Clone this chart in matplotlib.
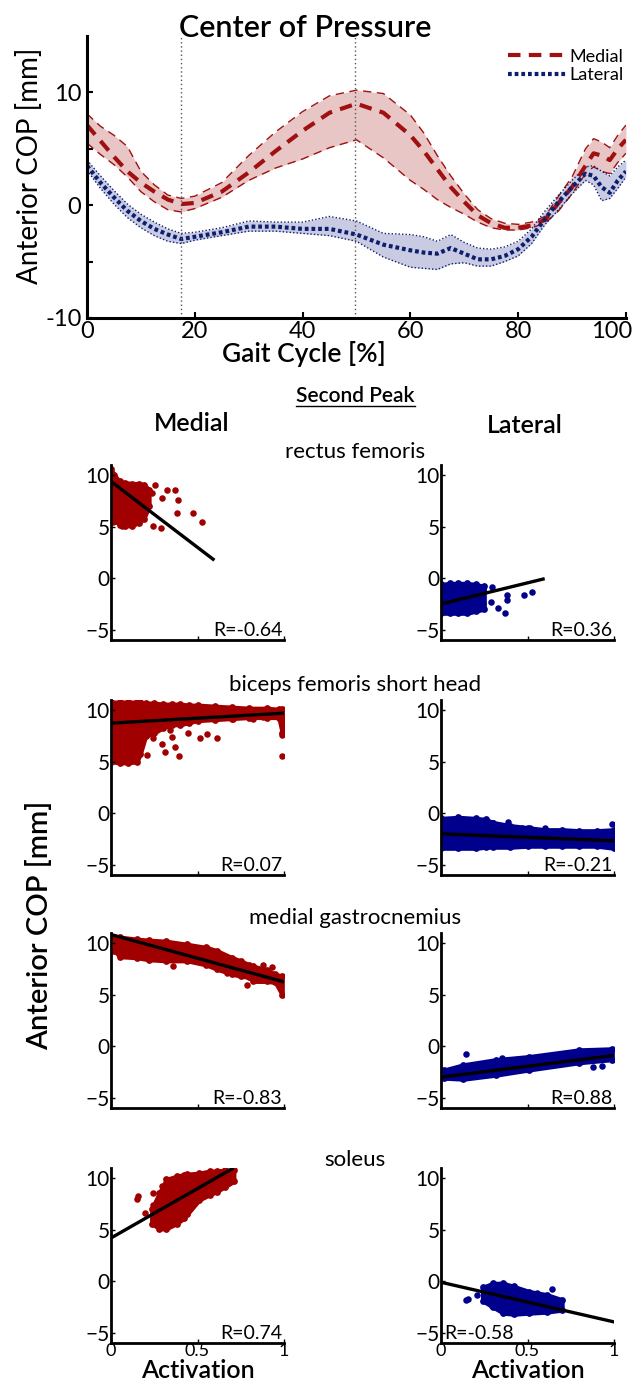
import numpy as np
import matplotlib
matplotlib.use("Agg")
import matplotlib.pyplot as plt
from matplotlib.lines import Line2D
from matplotlib.transforms import ScaledTranslation

plt.rcParams['font.family'] = ['Lato', 'DejaVu Sans']

# ---------------- top panel: COP over the gait cycle ----------------
gait = [0, 2.5, 5, 7.5, 10, 12.5, 15, 17.5, 20, 25, 30, 35, 40, 45, 50, 55, 60, 62.5, 65,
        67.5, 70, 72.5, 75, 77.5, 80, 82.5, 85, 87.5, 90, 92.5, 94, 95.5, 97, 98.5, 100]

med_mean = [7.1, 5.7, 4.3, 3.0, 2.0, 1.2, 0.5, 0.1, 0.2, 1.2, 2.9, 4.8, 6.6, 8.2, 9.0, 8.2, 6.2, 4.8, 3.2,
            1.6, 0.3, -0.9, -1.6, -2.0, -2.0, -1.8, -1.3, 0.2, 1.6, 3.5, 4.6, 4.4, 4.0, 5.0, 5.8]
med_upper = [8.1, 7.0, 6.2, 5.2, 3.0, 1.8, 0.9, 0.6, 0.8, 2.0, 4.4, 6.5, 8.3, 9.7, 10.2, 9.9, 8.0, 6.4, 4.4,
             2.6, 1.0, -0.4, -1.2, -1.6, -1.7, -1.5, -1.0, 0.8, 2.5, 5.0, 5.9, 5.6, 5.1, 6.2, 7.1]
med_lower = [5.5, 4.5, 3.6, 2.5, 1.2, 0.3, -0.4, -0.6, -0.3, 0.7, 2.2, 3.3, 4.1, 5.1, 5.8, 4.2, 2.2, 1.4, 0.5,
             -0.2, -0.8, -1.5, -2.0, -2.2, -2.2, -2.0, -1.6, -0.5, 1.0, 2.8, 3.4, 3.0, 2.8, 3.8, 4.6]

lat_mean = [3.5, 2.0, 0.7, -0.5, -1.4, -2.1, -2.6, -3.0, -2.8, -2.4, -1.9, -1.9, -2.1, -2.1, -2.6, -3.5, -4.0, -4.2, -4.3,
            -3.8, -4.3, -4.8, -4.8, -4.5, -3.9, -2.8, -1.2, 0.3, 1.6, 2.8, 2.6, 1.6, 1.1, 2.2, 3.0]
lat_upper = [4.0, 2.6, 1.3, 0.1, -0.8, -1.5, -2.1, -2.5, -2.4, -2.0, -1.4, -1.5, -1.5, -1.0, -1.4, -2.5, -2.6, -2.8, -3.2,
             -2.6, -3.3, -3.8, -3.9, -3.7, -3.2, -2.1, -0.5, 0.9, 2.2, 3.4, 3.5, 3.0, 2.6, 3.4, 4.0]
lat_lower = [3.1, 1.5, 0.1, -1.1, -2.0, -2.7, -3.2, -3.4, -3.1, -2.7, -2.3, -2.3, -2.5, -2.7, -3.2, -4.6, -5.5, -5.6, -5.7,
             -5.2, -5.1, -5.4, -5.4, -5.0, -4.5, -3.4, -1.7, -0.4, 1.0, 2.2, 1.8, 0.4, 0.6, 1.5, 2.5]

events = [17.4, 49.8]   # gait events marked by dotted lines

# ---------------- scatter panels (second peak) ----------------
muscles = ['rectus femoris', 'biceps femoris short head', 'medial gastrocnemius', 'soleus']

# dense part of each cloud: activation, lower and upper COP edge
rf_med_cloud = ([0, 0.02, 0.05, 0.08, 0.12, 0.16, 0.19, 0.22],
                [6.8, 5.6, 5.2, 5.1, 5.1, 5.4, 5.8, 7.0],
                [10.6, 10.0, 9.4, 9.3, 9.2, 9.2, 9.1, 8.6])
rf_lat_cloud = ([0, 0.05, 0.1, 0.15, 0.2, 0.25],
                [-3.4, -3.4, -3.4, -3.4, -3.2, -3.0],
                [-0.6, -0.5, -0.5, -0.5, -0.6, -0.8])
bf_med_cloud = ([0, 0.05, 0.10, 0.15, 0.17, 0.2, 0.25, 0.3, 0.35, 0.4, 0.45, 0.5, 0.6, 0.7, 0.8, 0.9, 0.97, 0.99, 1.0],
                [5.0, 4.9, 4.9, 5.0, 5.8, 7.5, 7.8, 8.3, 8.6, 8.6, 8.8, 9.0, 9.1, 9.2, 9.3, 9.3, 9.3, 7.8, 8.2],
                [10.8, 10.8, 10.8, 10.8, 10.8, 10.7, 10.7, 10.6, 10.6, 10.6, 10.5, 10.5, 10.4, 10.3, 10.2, 10.2, 10.1, 10.1, 10.0])
bf_lat_cloud = ([0, 0.1, 0.2, 0.26, 0.3, 0.4, 0.5, 0.6, 0.7, 0.8, 0.9, 1.0],
                [-3.4, -3.4, -3.4, -3.3, -3.3, -3.3, -3.2, -3.2, -3.2, -3.2, -3.2, -3.4],
                [-0.5, -0.4, -0.5, -0.6, -0.9, -1.2, -1.4, -1.6, -1.6, -1.7, -1.7, -1.6])
mg_med_cloud = ([0.02, 0.05, 0.15, 0.22, 0.32, 0.44, 0.55, 0.61, 0.7, 0.75, 0.8, 0.82, 0.9, 0.95, 0.99],
                [9.3, 8.7, 8.6, 8.4, 8.3, 8.3, 7.9, 7.5, 7.0, 6.8, 6.7, 6.3, 6.3, 6.2, 5.0],
                [10.6, 10.6, 10.4, 10.3, 10.2, 9.9, 9.6, 9.3, 8.6, 8.3, 7.9, 7.8, 7.4, 7.0, 6.8])
mg_lat_cloud = ([0.02, 0.13, 0.32, 0.51, 0.8, 0.99],
                [-3.1, -3.2, -2.8, -2.3, -1.6, -1.3],
                [-2.3, -1.8, -1.3, -1.0, -0.35, -0.25])
so_med_cloud = ([0.235, 0.28, 0.32, 0.38, 0.42, 0.44, 0.51, 0.57, 0.61, 0.66, 0.71],
                [5.6, 5.1, 5.1, 5.6, 6.1, 6.5, 7.9, 8.4, 8.7, 9.2, 9.7],
                [7.0, 8.6, 9.9, 10.2, 10.35, 10.4, 10.5, 10.7, 10.7, 10.8, 10.8])
so_lat_cloud = ([0.24, 0.3, 0.36, 0.42, 0.51, 0.61, 0.7],
                [-1.9, -2.5, -3.1, -3.2, -3.1, -3.0, -2.8],
                [-0.6, -0.2, -0.2, -0.5, -1.0, -1.3, -1.8])

# isolated points outside the dense cloud: activation, COP
rf_med_pts = ([0.254, 0.322, 0.37, 0.389, 0.293, 0.235, 0.38, 0.476, 0.524, 0.245, 0.289, 0.013, 0.061],
              [9.06, 8.57, 8.57, 7.6, 7.76, 8.25, 6.31, 6.37, 5.44, 5.11, 4.92, 5.44, 5.11])
rf_lat_pts = ([0.293, 0.289, 0.331, 0.37, 0.383, 0.383, 0.48, 0.524, 0.245, 0.245],
              [-0.81, -2.27, -2.85, -3.34, -1.59, -2.1, -1.62, -1.3, -1.1, -2.4])
bf_med_pts = ([0.206, 0.293, 0.312, 0.37, 0.395, 0.35, 0.514, 0.553, 0.611, 0.447, 0.707, 0.823, 0.88, 0.987, 0.987, 0.245, 0.34],
              [5.66, 6.7, 5.93, 6.47, 5.58, 7.43, 7.27, 7.66, 7.34, 7.8, 9.2, 9.2, 9.35, 5.56, 7.6, 7.27, 8.1])
bf_lat_pts = ([0.389, 0.514, 0.553, 0.601, 0.765, 0.987, 0.302, 0.466],
              [-0.87, -1.46, -1.78, -1.46, -1.78, -1.07, -0.94, -1.4])
mg_med_pts = ([0.36, 0.553, 0.88, 0.93, 0.786, 0.668],
              [7.77, 9.54, 7.92, 7.66, 5.98, 7.07])
mg_lat_pts = ([0.145, 0.876, 0.928, 0.35],
              [-0.75, -2.0, -1.88, -1.13])
so_med_pts = ([0.148, 0.154, 0.245, 0.293, 0.24, 0.197, 0.495, 0.312],
              [7.99, 8.25, 8.57, 9.22, 7.44, 6.63, 7.92, 7.92])
so_lat_pts = ([0.145, 0.157, 0.206, 0.293, 0.254, 0.64, 0.553],
              [-1.8, -1.75, -1.3, -2.43, -1.3, -0.73, -1.13])

# regression lines: intercept, slope, activation range
fit_med = [(9.4, -12.8, 0.59), (8.75, 0.97, 1.0), (10.85, -4.6, 0.99), (4.2, 9.6, 0.7)]
fit_lat = [(-2.5, 4.1, 0.59), (-2.0, -0.68, 0.99), (-3.0, 2.1, 0.99), (-0.1, -3.85, 1.0)]
r_med = ['R=-0.64', 'R=0.07', 'R=-0.83', 'R=0.74']
r_lat = ['R=0.36', 'R=-0.21', 'R=0.88', 'R=-0.58']

clouds_med = [rf_med_cloud, bf_med_cloud, mg_med_cloud, so_med_cloud]
clouds_lat = [rf_lat_cloud, bf_lat_cloud, mg_lat_cloud, so_lat_cloud]
pts_med = [rf_med_pts, bf_med_pts, mg_med_pts, so_med_pts]
pts_lat = [rf_lat_pts, bf_lat_pts, mg_lat_pts, so_lat_pts]

MED = '#a00000'
LAT = '#00008c'
MED_LINE = '#a01010'
LAT_LINE = '#0c1f6e'

fig = plt.figure(figsize=(6.35, 13.91), dpi=100)

# ---------- top ----------
ax = fig.add_axes([0.137, 0.7714, 0.8487, 0.2027])
ax.fill_between(gait, med_lower, med_upper, color='#e8c6c6', lw=0)
ax.fill_between(gait, lat_lower, lat_upper, color='#c9cbe3', lw=0)
ax.plot(gait, med_upper, color=MED_LINE, lw=1, ls=(0, (6, 4)))
ax.plot(gait, med_lower, color=MED_LINE, lw=1, ls=(0, (6, 4)))
ax.plot(gait, lat_upper, color=LAT_LINE, lw=1, ls=(0, (1, 1.5)))
ax.plot(gait, lat_lower, color=LAT_LINE, lw=1, ls=(0, (1, 1.5)))
h1, = ax.plot(gait, med_mean, color=MED_LINE, lw=3, ls=(0, (3, 2)), label='Medial')
h2, = ax.plot(gait, lat_mean, color=LAT_LINE, lw=3, ls=(0, (0.9, 0.7)), label='Lateral')
for e in events:
    ax.axvline(e, color='#555555', lw=1, ls=(0, (1, 2)))
ax.set_xlim(0, 100)
ax.set_ylim(-10, 15)
ax.set_xticks([0, 20, 40, 60, 80, 100])
ax.set_yticks([-10, -5, 0, 5, 10])
ax.set_yticklabels(['-10', '', '0', '', '10'])
ax.tick_params(direction='in', length=4, width=1.5, labelsize=17, pad=2)
ax.tick_params(axis='y', pad=4)
for s in ['top', 'right']:
    ax.spines[s].set_visible(False)
for s in ['left', 'bottom']:
    ax.spines[s].set_linewidth(2.2)
# the last gait label sits against the right edge of the figure
last = ax.get_xticklabels()[-1]
last.set_horizontalalignment('right')
last.set_transform(last.get_transform() + ScaledTranslation(0.06, 0, fig.dpi_scale_trans))
ax.legend(handles=[h1, h2], loc='upper right', bbox_to_anchor=(1.02, 1.0), frameon=False,
          fontsize=13, handlelength=3.2, handletextpad=0.2, labelspacing=0.15, borderaxespad=0.3)

fig.text(0.48, 0.980, 'Center of Pressure', ha='center', va='center', fontsize=22, fontweight='semibold')
fig.text(0.047, 0.881, 'Anterior COP [mm]', ha='center', va='center', rotation=90, fontsize=20)
fig.text(0.478, 1 - 354 / 1391, 'Gait Cycle [%]', ha='center', va='center', fontsize=19, fontweight='semibold')

# ---------- scatter grid ----------
sp = fig.text(0.56, 1 - 396 / 1391, 'Second Peak', ha='center', va='center', fontsize=15, fontweight='semibold')
fig.text(0.302, 1 - 423 / 1391, 'Medial', ha='center', va='center', fontsize=18, fontweight='semibold')
fig.text(0.827, 1 - 425 / 1391, 'Lateral', ha='center', va='center', fontsize=18, fontweight='semibold')
fig.text(0.063, 1 - 925 / 1391, 'Anterior COP [mm]', ha='center', va='center', rotation=90,
         fontsize=21, fontweight='semibold')

row_bottoms = [1 - 640 / 1391, 1 - 875 / 1391, 1 - 1108 / 1391, 1 - 1343 / 1391]
title_y = [1 - 452 / 1391, 1 - 685 / 1391, 1 - 918 / 1391, 1 - 1160 / 1391]
col_lefts = [111 / 635, 441 / 635]
w, h = 173 / 635, 175 / 1391

for i in range(4):
    fig.text(0.559, title_y[i], muscles[i], ha='center', va='center', fontsize=16)
    for j, (clouds, pts, fits, rs, col) in enumerate([(clouds_med, pts_med, fit_med, r_med, MED),
                                                       (clouds_lat, pts_lat, fit_lat, r_lat, LAT)]):
        a = fig.add_axes([col_lefts[j], row_bottoms[i], w, h])
        cx, lo, hi = clouds[i]
        a.fill_between(cx, lo, hi, color=col, lw=3, edgecolor=col)
        a.scatter(cx, lo, s=24, color=col, lw=0)
        a.scatter(cx, hi, s=24, color=col, lw=0)
        a.scatter(pts[i][0], pts[i][1], s=22, color=col, lw=0)
        b0, b1, xe = fits[i]
        xs = np.array([0, xe])
        a.plot(xs, b0 + b1 * xs, color='black', lw=2.4)
        a.set_xlim(0, 1)
        a.set_ylim(-6, 11)
        a.set_xticks([0, 0.5, 1])
        a.set_yticks([-5, 0, 5, 10])
        a.tick_params(direction='in', length=3, width=1, labelsize=15, pad=1)
        if i < 3:
            a.set_xticklabels([])
        else:
            a.set_xticklabels(['0', '0.5', '1'])
            a.tick_params(axis='x', labelsize=13, pad=0)
            a.set_xlabel('Activation', fontsize=18, fontweight='semibold', labelpad=0)
        for s in ['top', 'right']:
            a.spines[s].set_visible(False)
        for s in ['left', 'bottom']:
            a.spines[s].set_linewidth(2)
        if i == 3 and j == 1:
            a.text(0.02, 0.005, rs[i], transform=a.transAxes, ha='left', va='bottom', fontsize=14)
        else:
            a.text(0.99, 0.005, rs[i], transform=a.transAxes, ha='right', va='bottom', fontsize=14)

# underline for "Second Peak"
fig.canvas.draw()
bb = sp.get_window_extent(fig.canvas.get_renderer()).transformed(fig.transFigure.inverted())
fig.add_artist(Line2D([bb.x0, bb.x1], [bb.y0, bb.y0], color='black', lw=1, transform=fig.transFigure))

fig.savefig('out.png', dpi=100)
